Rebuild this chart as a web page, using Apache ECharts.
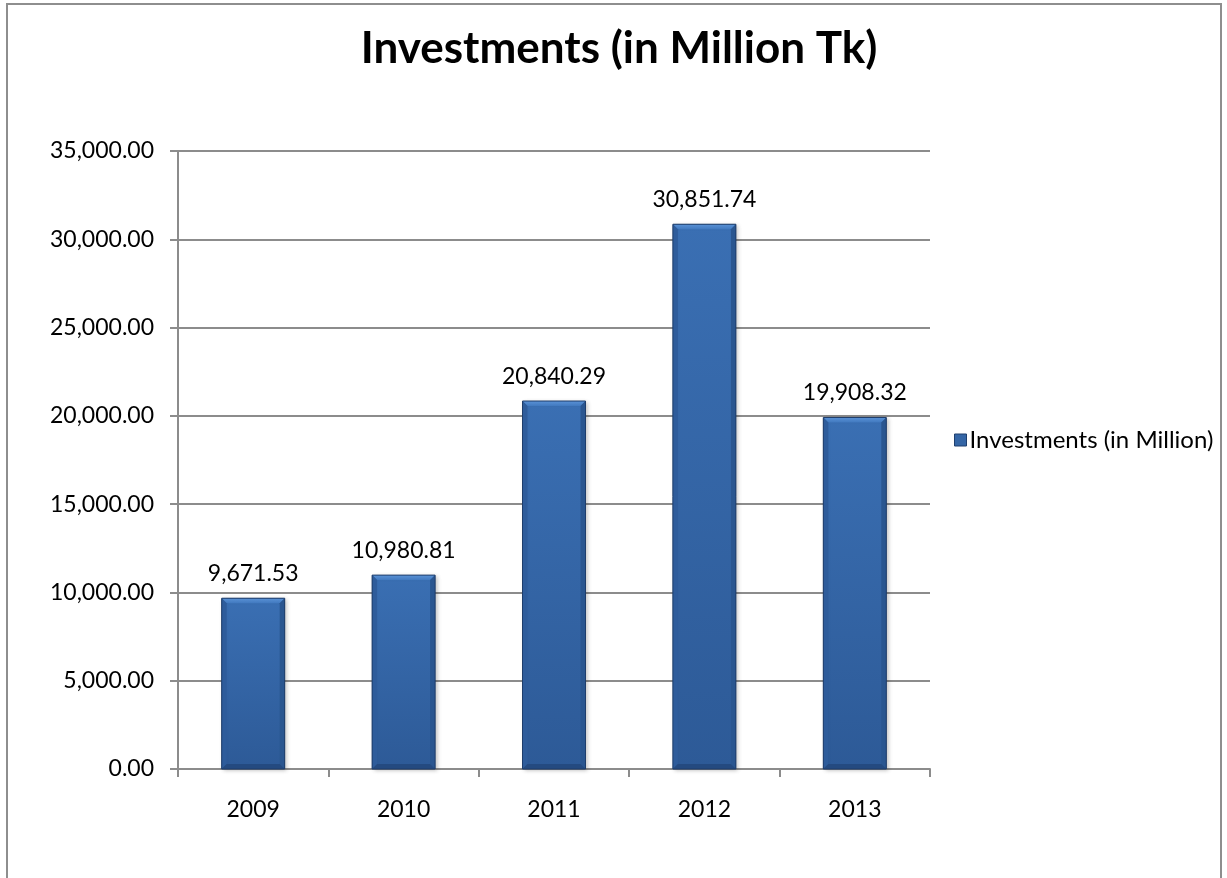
<!DOCTYPE html>
<html>
<head>
<meta charset="utf-8">
<style>
  html, body { margin: 0; padding: 0; background: #ffffff; }
  #chart { width: 1227px; height: 878px; }
</style>
<script src="https://cdn.jsdelivr.net/npm/echarts@6/dist/echarts.min.js"></script>
</head>
<body>
<div id="chart"></div>
<script>
// Yearly investment totals, million Tk
const years = ['2009', '2010', '2011', '2012', '2013'];
const investments = [9671.53, 10980.81, 20840.29, 30851.74, 19908.32];
const seriesName = 'Investments (in Million)';
const chartTitle = 'Investments (in Million Tk)';

const FONT = 'Lato, "Open Sans", sans-serif';
const BAR_W = 63;
const BEVEL = 5;

function fmt(v) {
  return v.toLocaleString('en-US', { minimumFractionDigits: 2, maximumFractionDigits: 2 });
}

const chart = echarts.init(document.getElementById('chart'), null, { renderer: 'canvas' });

chart.setOption({
  animation: false,
  backgroundColor: '#ffffff',
  graphic: [{
    type: 'rect',
    shape: { x: 7, y: 4, width: 1214, height: 900 },
    style: { fill: 'none', stroke: '#8e8e8e', lineWidth: 2 },
    silent: true,
    z: -1
  }],
  title: {
    text: chartTitle,
    left: 614,
    textAlign: 'center',
    top: 22,
    textStyle: { fontFamily: FONT, fontWeight: 'bold', fontSize: 44, color: '#000000' }
  },
  legend: {
    left: 949,
    top: 423,
    itemWidth: 12,
    itemHeight: 12,
    itemGap: 5,
    icon: 'rect',
    data: [{ name: seriesName, itemStyle: { color: '#3566a6', borderColor: '#1f3f6e', borderWidth: 1 } }],
    textStyle: { fontFamily: FONT, fontSize: 24, color: '#000000', padding: [0, 0, 0, -2] }
  },
  grid: { left: 178, right: 297, top: 151, bottom: 109, containLabel: false },
  xAxis: {
    type: 'category',
    data: years,
    axisLine: { lineStyle: { color: '#8c8c8c', width: 2 } },
    axisTick: { show: true, length: 8, alignWithLabel: false, lineStyle: { color: '#8c8c8c', width: 2 } },
    axisLabel: { fontFamily: FONT, fontSize: 23, color: '#000000', margin: 29 }
  },
  yAxis: {
    type: 'value',
    min: 0,
    max: 35000,
    interval: 5000,
    axisLine: { show: true, lineStyle: { color: '#8c8c8c', width: 2 } },
    axisTick: { show: true, length: 8, lineStyle: { color: '#8c8c8c', width: 2 } },
    splitLine: { lineStyle: { color: '#8c8c8c', width: 2 } },
    axisLabel: { fontFamily: FONT, fontSize: 23, color: '#000000', margin: 24, formatter: v => fmt(v) }
  },
  series: [
    {
      name: seriesName,
      type: 'bar',
      data: investments,
      barWidth: BAR_W,
      itemStyle: {
        color: new echarts.graphic.LinearGradient(0, 0, 0, 1, [
          { offset: 0, color: '#3a6fb3' },
          { offset: 1, color: '#2d5a97' }
        ]),
        borderColor: '#1e3d6b',
        borderWidth: 1,
        shadowColor: 'rgba(0,0,0,0.22)',
        shadowBlur: 4,
        shadowOffsetX: 2,
        shadowOffsetY: 1
      },
      label: {
        show: true,
        position: 'top',
        distance: 13,
        fontFamily: FONT,
        fontSize: 23,
        color: '#000000',
        formatter: p => fmt(p.value)
      },
      z: 2
    },
    {
      // bevelled edges drawn over each bar
      type: 'custom',
      data: investments.map((v, i) => [i, v]),
      silent: true,
      z: 3,
      renderItem: function (params, api) {
        const top = api.coord([api.value(0), api.value(1)]);
        const base = api.coord([api.value(0), 0]);
        const x0 = top[0] - BAR_W / 2, x1 = top[0] + BAR_W / 2;
        const y0 = top[1], y1 = base[1];
        const b = BEVEL;
        return {
          type: 'group',
          children: [
            { type: 'polygon', shape: { points: [[x0, y0], [x1, y0], [x1 - b, y0 + b], [x0 + b, y0 + b]] },
              style: { fill: new echarts.graphic.LinearGradient(0, 0, 0, 1, [
                { offset: 0, color: '#5a92d6' }, { offset: 1, color: '#4179bf' }]) } },
            { type: 'polygon', shape: { points: [[x0, y0], [x0 + b, y0 + b], [x0 + b, y1 - b], [x0, y1]] },
              style: { fill: '#2e5c9b' } },
            { type: 'polygon', shape: { points: [[x1, y0], [x1, y1], [x1 - b, y1 - b], [x1 - b, y0 + b]] },
              style: { fill: '#2a5690' } },
            { type: 'polygon', shape: { points: [[x0, y1], [x0 + b, y1 - b], [x1 - b, y1 - b], [x1, y1]] },
              style: { fill: '#244a80' } },
            { type: 'rect', shape: { x: x0, y: y0, width: BAR_W, height: y1 - y0 },
              style: { fill: 'none', stroke: '#1e3d6b', lineWidth: 1 } }
          ]
        };
      }
    }
  ]
});
</script>
</body>
</html>
